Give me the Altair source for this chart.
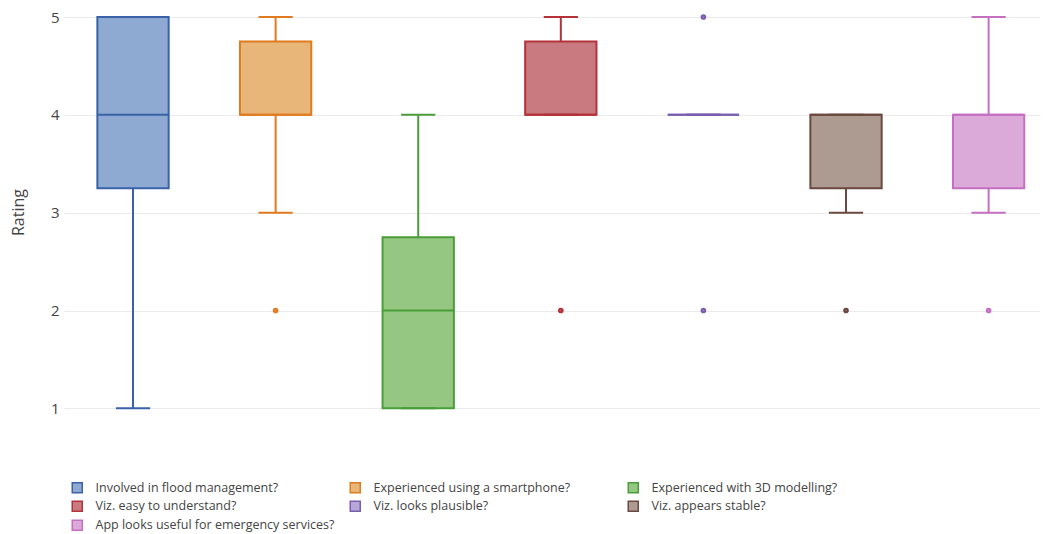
import altair as alt
import pandas as pd

categories = [
    "Involved in flood management?",
    "Experienced using a smartphone?",
    "Experienced with 3D modelling?",
    "Viz. easy to understand?",
    "Viz. looks plausible?",
    "Viz. appears stable?",
    "App looks useful for emergency services?",
]
q1 = [3.25, 4, 1, 4, 4, 3.25, 3.25]
median = [4, 4, 2, 4, 4, 4, 4]
q3 = [5, 4.75, 2.75, 4.75, 4, 4, 4]
lower = [1, 3, 1, 4, 4, 3, 3]
upper = [5, 5, 4, 5, 4, 4, 5]

outlier_cat = [1, 3, 4, 4, 5, 6]
outlier_val = [2, 2, 5, 2, 2, 2]

strokes = ["#3a62a8", "#e07b1f", "#4a9e3a", "#b4323a", "#7a5fb0", "#6b4840", "#c56fc2"]
fills = ["#8eaad2", "#e9b67a", "#95c782", "#c97a80", "#b7a7d9", "#ad9a91", "#dcaad8"]

df = pd.DataFrame({
    "cat": categories,
    "i": list(range(len(categories))),
    "q1": q1, "median": median, "q3": q3, "lower": lower, "upper": upper,
})
df_out = pd.DataFrame({
    "cat": [categories[k] for k in outlier_cat],
    "i": outlier_cat,
    "v": outlier_val,
})

W, H = 976, 417
xscale = alt.Scale(domain=[-0.484, -0.484 + W / 142.6])
yscale = alt.Scale(domain=[0.83, 5.092], nice=False, zero=False)
stroke_scale = alt.Scale(domain=categories, range=strokes)
fill_scale = alt.Scale(domain=categories, range=fills)

yaxis = alt.Axis(values=[1, 2, 3, 4, 5], format="d", title="Rating",
                 titleX=-46, titleY=204, titleAngle=270,
                 titleAlign="center", titleBaseline="middle")

base = alt.Chart(df).transform_calculate(
    xl="datum.i - 0.25", xr="datum.i + 0.25",
    cl="datum.i - 0.12", cr="datum.i + 0.12",
)
stroke_enc = alt.Stroke("cat:N", scale=stroke_scale, title=None)

box = base.mark_bar(strokeWidth=2, opacity=1).encode(
    x=alt.X("xl:Q", scale=xscale, axis=None), x2="xr:Q",
    y=alt.Y("q1:Q", scale=yscale, axis=yaxis), y2="q3:Q",
    fill=alt.Fill("cat:N", scale=fill_scale, title=None),
    stroke=stroke_enc,
)
whisk_lo = base.mark_rule(strokeWidth=2).encode(
    x=alt.X("i:Q", scale=xscale, axis=None),
    y=alt.Y("lower:Q", scale=yscale, axis=yaxis),
    y2="q1:Q",
    stroke=stroke_enc,
)
whisk_hi = base.mark_rule(strokeWidth=2).encode(
    x=alt.X("i:Q", scale=xscale, axis=None),
    y=alt.Y("q3:Q", scale=yscale, axis=yaxis),
    y2="upper:Q",
    stroke=stroke_enc,
)
cap_lo = base.mark_rule(strokeWidth=2).encode(
    x=alt.X("cl:Q", scale=xscale, axis=None), x2="cr:Q",
    y=alt.Y("lower:Q", scale=yscale, axis=yaxis),
    stroke=stroke_enc,
)
cap_hi = base.mark_rule(strokeWidth=2).encode(
    x=alt.X("cl:Q", scale=xscale, axis=None), x2="cr:Q",
    y=alt.Y("upper:Q", scale=yscale, axis=yaxis),
    stroke=stroke_enc,
)
med = base.mark_rule(strokeWidth=2).encode(
    x=alt.X("xl:Q", scale=xscale, axis=None), x2="xr:Q",
    y=alt.Y("median:Q", scale=yscale, axis=yaxis),
    stroke=stroke_enc,
)
pts = alt.Chart(df_out).mark_point(shape="circle", filled=False, size=6,
                                    strokeWidth=3.2, opacity=1).encode(
    x=alt.X("i:Q", scale=xscale, axis=None),
    y=alt.Y("v:Q", scale=yscale, axis=yaxis),
    stroke=stroke_enc,
)

chart = alt.layer(box, whisk_lo, whisk_hi, cap_lo, cap_hi, med, pts).properties(
    width=W, height=H,
    autosize=alt.AutoSizeParams(type="none"),
    padding={"left": 56, "top": 0, "right": 0, "bottom": 108},
).configure_view(stroke=None).configure_axis(
    grid=True, gridColor="#ebebeb", gridWidth=1, domain=False, ticks=False,
    labelFont="Open Sans", labelFontSize=15, labelColor="#444", labelPadding=5,
    titleFont="Open Sans", titleFontSize=16, titleColor="#444", titleFontWeight="normal",
).configure_legend(
    orient="none", legendX=7, legendY=473, direction="horizontal", columns=3,
    gridAlign="all", symbolType="square", symbolSize=100,
    symbolStrokeWidth=1.5, labelFont="Open Sans", labelFontSize=12.5,
    labelColor="#444", labelLimit=400, labelOffset=12, columnPadding=12,
    rowPadding=2, padding=0,
)

chart.save("out.html", embed_options={"renderer": "svg", "actions": False})
